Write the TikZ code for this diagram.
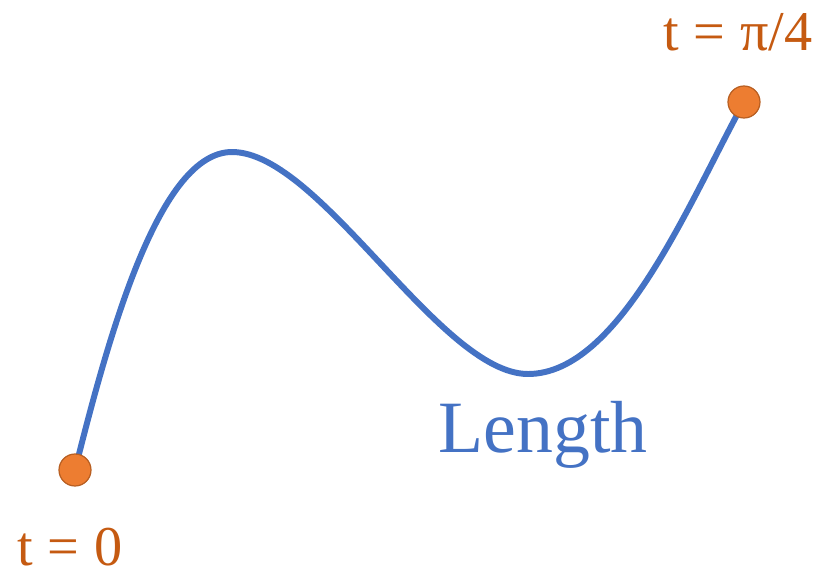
\documentclass[tikz,border=0pt]{standalone}
\usepackage{fontspec}
\setmainfont{Liberation Serif}
\usetikzlibrary{positioning}
\definecolor{curveblue}{HTML}{4472C4}
\definecolor{dotorange}{HTML}{ED7D31}
\definecolor{dotedge}{HTML}{B85F22}
\definecolor{textorange}{HTML}{C55A11}
\newcommand{\eqgap}{\hspace{0.3cm}=\hspace{0.3cm}}

\begin{document}
\begin{tikzpicture}[x=0.02cm, y=-0.02cm,
  every node/.style={inner sep=0pt},
  dot/.style={circle, fill=dotorange, draw=dotedge, line width=0.7pt, minimum size=0.64cm},
  tlabel/.style={text=textorange, font=\fontsize{32}{32}\selectfont}]
  \useasboundingbox (0,0) rectangle (833,575);

  \coordinate (S) at (75,470);
  \coordinate (P) at (232,152);
  \coordinate (T) at (528,374);
  \coordinate (E) at (744,102);

  \draw[curveblue, line width=3.4pt, line cap=round]
    (S) .. controls (110,330) and (160,152) .. (P)
    .. controls (320,152) and (440,374) .. (T)
    .. controls (620,374) and (690,200) .. (E);
  \node[dot] (start) at (S) {};
  \node[dot] (end) at (E) {};

  \node[tlabel, anchor=base] (t0) at (70,565) {t\eqgap 0};
  \node[tlabel, anchor=base] (t1) at (738,50) {t\eqgap π/4};
  \node[text=curveblue, font=\fontsize{42}{42}\selectfont] (len) at (543,435) {Length};
\end{tikzpicture}
\end{document}
